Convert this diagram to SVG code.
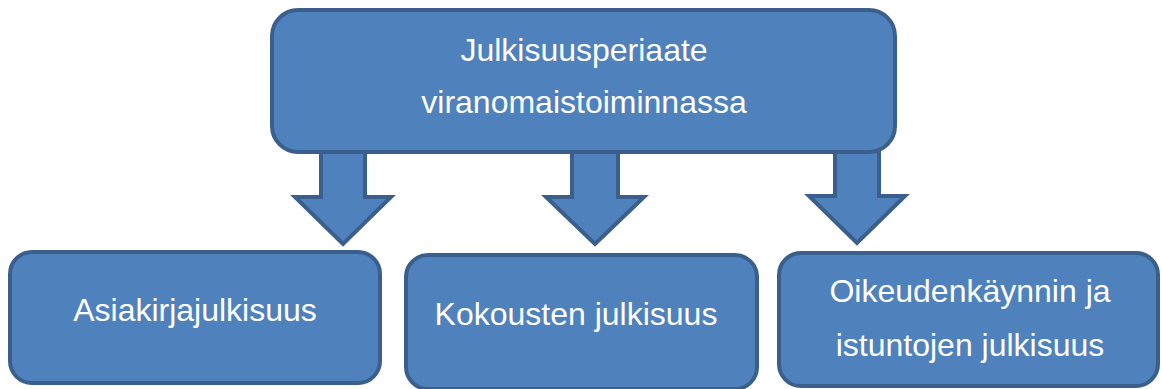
<svg xmlns="http://www.w3.org/2000/svg" width="1162" height="389" viewBox="0 0 1162 389">
<style>
.shape{fill:#4F81BD;stroke:#3A5F8D;stroke-width:4;stroke-linejoin:miter}
.box{fill:#4F81BD;stroke:#3A5F8D;stroke-width:4}
.t{font-family:"Liberation Sans",Arial,sans-serif;font-size:32px;fill:#FFFFFF;text-anchor:middle}
</style>
<rect width="1162" height="389" fill="#FFFFFF"/>
<g id="connectors">
<polygon class="shape" points="321,140 365,140 365,197 391,197 343,244 295,197 321,197"/>
<polygon class="shape" points="572,140 618,140 618,197 644,197 595,244 546,197 572,197"/>
<polygon class="shape" points="835,140 879,140 879,196 905,196 857,243 809,196 835,196"/>
</g>
<g id="top">
<rect class="box" x="272" y="10" width="623" height="142" rx="26" ry="26"/>
<text class="t" x="584" y="61">Julkisuusperiaate</text>
<text class="t" x="584" y="113">viranomaistoiminnassa</text>
</g>
<g id="asiakirja">
<rect class="box" x="10" y="252" width="370" height="131" rx="22" ry="22"/>
<text class="t" x="195" y="321">Asiakirjajulkisuus</text>
</g>
<g id="kokousten">
<rect class="box" x="406" y="255" width="351" height="134" rx="22" ry="22"/>
<text class="t" x="576" y="325">Kokousten julkisuus</text>
</g>
<g id="oikeudenkaynti">
<rect class="box" x="779" y="253" width="379" height="133" rx="22" ry="22"/>
<text class="t" x="970" y="302">Oikeudenkäynnin ja</text>
<text class="t" x="970" y="356">istuntojen julkisuus</text>
</g>
</svg>
